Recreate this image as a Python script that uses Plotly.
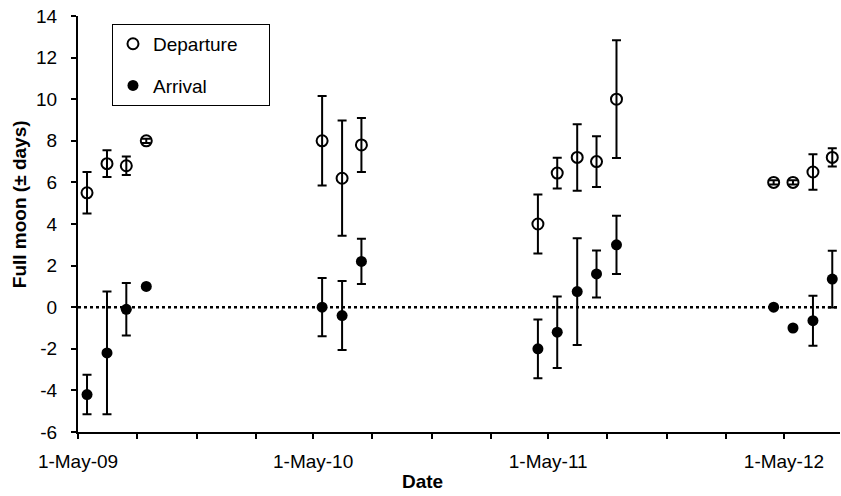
import plotly.graph_objects as go

# ---- data ----
dates = ["2009-05-15", "2009-06-15", "2009-07-15", "2009-08-15",
         "2010-05-15", "2010-06-15", "2010-07-15",
         "2011-04-15", "2011-05-15", "2011-06-15", "2011-07-15", "2011-08-15",
         "2012-04-15", "2012-05-15", "2012-06-15", "2012-07-15"]

departure = [5.5, 6.9, 6.8, 8.0,
             8.0, 6.2, 7.8,
             4.0, 6.45, 7.2, 7.0, 10.0,
             6.0, 6.0, 6.5, 7.2]
departure_err = [1.0, 0.64, 0.44, 0.1,
                 2.15, 2.77, 1.3,
                 1.42, 0.74, 1.6, 1.22, 2.83,
                 0.1, 0.1, 0.85, 0.44]

arrival = [-4.2, -2.2, -0.1, 1.0,
           0.0, -0.4, 2.2,
           -2.0, -1.2, 0.75, 1.6, 3.0,
           0.0, -1.0, -0.65, 1.35]
arrival_err = [0.95, 2.95, 1.26, 0.0,
               1.4, 1.66, 1.09,
               1.41, 1.72, 2.57, 1.13, 1.4,
               0.0, 0.0, 1.2, 1.36]

x_tickvals = ["2009-05-01", "2010-05-01", "2011-05-01", "2012-05-01"]
x_ticktext = ["1-May-09", "1-May-10", "1-May-11", "1-May-12"]
y_tickvals = [-6, -4, -2, 0, 2, 4, 6, 8, 10, 12, 14]
y_ticktext = ["-6", "-4", "-2", "0", "2", "4", "6", "8", "10", "12", "14"]

FONT = "Arial, Liberation Sans, sans-serif"
FS = 19
PAD = "\u00a0" * 5  # widens the legend box like the reference

fig = go.Figure()
fig.add_trace(go.Scatter(
    x=dates, y=departure, mode="markers", name="Departure" + PAD,
    legendgroup="d",
    marker=dict(symbol="circle-open", size=11, color="black", line=dict(width=2, color="black")),
    error_y=dict(type="data", array=departure_err, visible=True, color="black", thickness=2, width=4.5),
))
fig.add_trace(go.Scatter(
    x=dates, y=arrival, mode="markers", name="Arrival",
    legendgroup="a",
    marker=dict(symbol="circle", size=11, color="black"),
    error_y=dict(type="data", array=arrival_err, visible=True, color="black", thickness=2, width=4.5),
))

fig.add_shape(type="line", xref="paper", yref="y", x0=0, x1=1, y0=0, y1=0,
              line=dict(color="black", width=2.5, dash="dot"), layer="below")

fig.update_layout(
    width=841, height=496,
    margin=dict(l=78, r=1, t=16, b=64),
    paper_bgcolor="white", plot_bgcolor="white",
    font=dict(family=FONT, size=FS, color="black"),
    showlegend=True,
    legend=dict(x=0.0446, y=0.981, xanchor="left", yanchor="top",
                bordercolor="black", borderwidth=1, bgcolor="white",
                font=dict(size=FS), traceorder="grouped", tracegroupgap=14,
                itemwidth=30),
    xaxis=dict(type="date", range=["2009-05-01", "2012-07-27"],
               tickvals=x_tickvals, ticktext=x_ticktext,
               ticks="outside", ticklen=5, tickwidth=2, tickcolor="black",
               minor=dict(ticks="outside", ticklen=5, tickwidth=2, tickcolor="black",
                          dtick="M3", tick0="2009-05-01"),
               showline=True, linecolor="black", linewidth=2,
               showgrid=False, zeroline=False, ticklabelstandoff=6),
    yaxis=dict(range=[-6, 14], tickvals=y_tickvals, ticktext=y_ticktext,
               ticks="outside", ticklen=5, tickwidth=2, tickcolor="black",
               showline=True, linecolor="black", linewidth=2,
               showgrid=False, zeroline=False, ticklabelstandoff=10),
    annotations=[
        dict(text="<b>Date</b>", xref="paper", yref="paper", x=0.4517, y=-0.1187,
             xanchor="center", yanchor="middle", showarrow=False, font=dict(size=FS)),
        dict(text="<b>Full moon (± days)</b>", xref="paper", yref="paper", x=-0.0757, y=0.5484,
             xanchor="center", yanchor="middle", textangle=-90, showarrow=False, font=dict(size=FS)),
    ],
)

fig.write_html("out.html")
